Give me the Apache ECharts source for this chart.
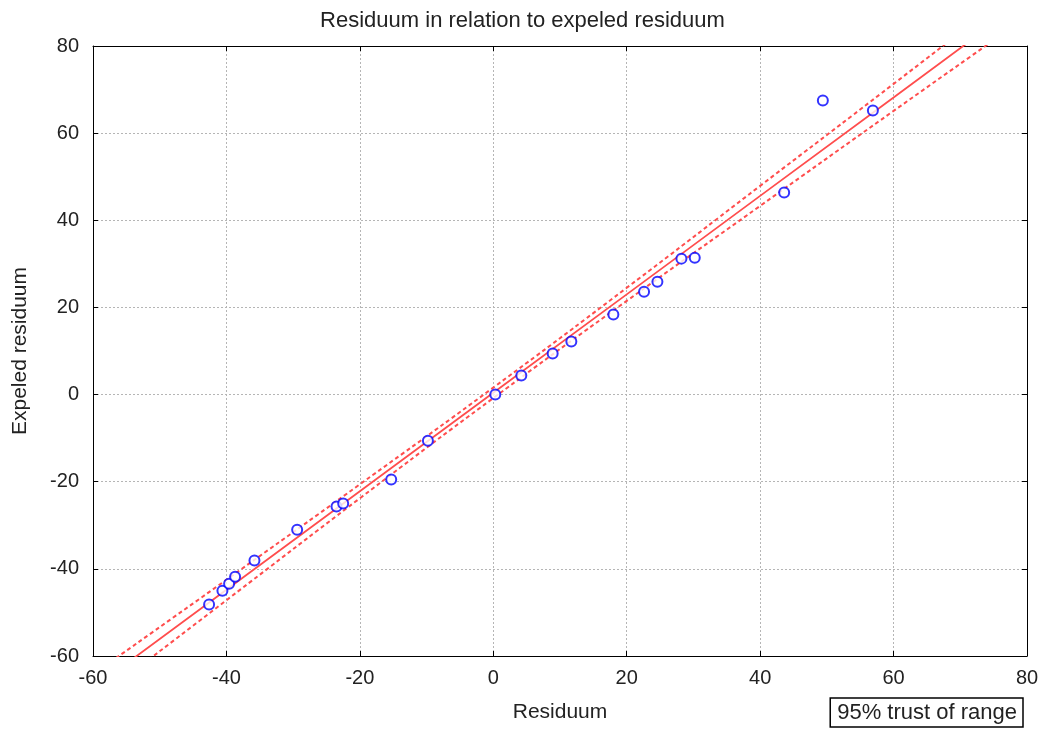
<!DOCTYPE html>
<html>
<head>
<meta charset="utf-8">
<script src="https://cdn.jsdelivr.net/npm/echarts@6/dist/echarts.min.js"></script>
<style>
  html, body { margin: 0; padding: 0; background: #fff; }
  #chart { width: 1045px; height: 729px; }
</style>
</head>
<body>
<div id="chart"></div>
<script>
// observed points: residuum (x) vs expected residuum (y)
const residuum = [-42.6, -40.6, -39.6, -38.7, -35.8, -29.4, -23.5, -22.5, -15.3, -9.8,
  0.3, 4.2, 8.9, 11.7, 18.0, 22.6, 24.6, 28.2, 30.2, 43.6, 49.4, 56.9]
const expected = [-48.2, -45.0, -43.4, -41.8, -38.1, -31.0, -25.7, -25.0, -19.5, -10.6,
  0.0, 4.4, 9.4, 12.2, 18.4, 23.6, 25.9, 31.2, 31.4, 46.4, 67.5, 65.2]

// fitted line and 95% band at these x positions
const bandX = [-60, -40, -20, 0, 20, 40, 60, 80]
const fitY = [-67.4, -44.8, -22.2, 0.4, 23.0, 45.6, 68.2, 90.8]
const upperY = [-64.2, -42.5, -20.6, 1.6, 24.5, 47.9, 71.3, 94.9]
const lowerY = [-70.6, -47.2, -23.8, -0.8, 21.5, 43.3, 65.1, 86.7]

const xTicks = [-60, 80, 20]
const yTicks = [-60, 80, 20]

const font = "'Liberation Sans', Arial, sans-serif"
const red = '#ff4d4d'

const zip = (xs, ys) => xs.map((x, i) => [x, ys[i]])

const axisCommon = {
  type: 'value',
  axisLine: { show: true, onZero: false, lineStyle: { color: '#000', width: 1 } },
  axisTick: { show: true, inside: true, length: 5, lineStyle: { color: '#000' } },
  axisLabel: { color: '#222', fontSize: 20, fontFamily: font },
  splitLine: { show: true, lineStyle: { color: '#b5b5b5', type: [2, 2], width: 1 } },
  nameLocation: 'middle',
  nameTextStyle: { color: '#222', fontSize: 21, fontFamily: font },
}

// plain frame axes for the top and right edges
const frameAxis = {
  type: 'value',
  axisLine: { show: true, onZero: false, lineStyle: { color: '#000', width: 1 } },
  axisTick: { show: true, inside: true, length: 5, lineStyle: { color: '#000' } },
  axisLabel: { show: false },
  splitLine: { show: false },
}

const chart = echarts.init(document.getElementById('chart'))
chart.setOption({
  animation: false,
  backgroundColor: '#fff',
  title: {
    text: 'Residuum in relation to expeled residuum',
    left: 'center',
    top: 5,
    textStyle: { color: '#222', fontSize: 22, fontWeight: 'normal', fontFamily: font },
  },
  grid: {
    left: 93, right: 18, top: 46, bottom: 73,
    containLabel: false, outerBoundsMode: 'none',
  },
  legend: {
    data: [{ name: '95% trust of range', icon: 'none' }],
    right: 22, bottom: 2,
    itemWidth: 0, itemHeight: 0,
    borderColor: '#000', borderWidth: 1.5, borderRadius: 0,
    padding: [4, 6, 3, 2],
    textStyle: { color: '#222', fontSize: 22, fontFamily: font },
    selectedMode: false,
  },
  xAxis: [
    {
      ...axisCommon,
      min: xTicks[0], max: xTicks[1], interval: xTicks[2],
      name: 'Residuum',
      nameGap: 46,
      axisLabel: { ...axisCommon.axisLabel, margin: 12 },
    },
    { ...frameAxis, position: 'top', min: xTicks[0], max: xTicks[1], interval: xTicks[2] },
  ],
  yAxis: [
    {
      ...axisCommon,
      min: yTicks[0], max: yTicks[1], interval: yTicks[2],
      name: 'Expeled residuum',
      nameGap: 62,
      axisLabel: { ...axisCommon.axisLabel, margin: 14 },
    },
    { ...frameAxis, position: 'right', min: yTicks[0], max: yTicks[1], interval: yTicks[2] },
  ],
  series: [
    {
      type: 'line',
      data: zip(bandX, fitY),
      symbol: 'none',
      lineStyle: { color: red, width: 1.8 },
      clip: true,
      z: 2,
    },
    {
      name: '95% trust of range',
      type: 'line',
      data: zip(bandX, upperY),
      smooth: true,
      symbol: 'none',
      lineStyle: { color: red, width: 2, type: [4, 3] },
      itemStyle: { color: red },
      clip: true,
      z: 2,
    },
    {
      type: 'line',
      data: zip(bandX, lowerY),
      smooth: true,
      symbol: 'none',
      lineStyle: { color: red, width: 2, type: [4, 3] },
      clip: true,
      z: 2,
    },
    {
      type: 'scatter',
      data: zip(residuum, expected),
      symbol: 'circle',
      symbolSize: 10,
      itemStyle: { color: '#fff', borderColor: '#0000ff', borderWidth: 2 },
      z: 3,
    },
  ],
})
</script>
</body>
</html>
